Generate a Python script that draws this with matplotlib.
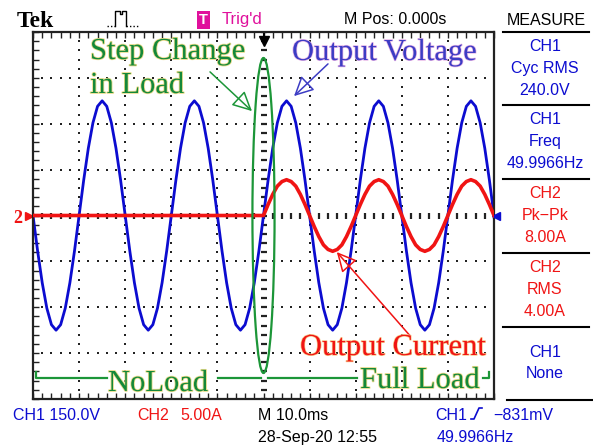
import numpy as np
import matplotlib
matplotlib.use("Agg")
import matplotlib.pyplot as plt
import matplotlib.patheffects as pe
from matplotlib import font_manager
from matplotlib.patches import Ellipse, FancyArrowPatch
from matplotlib.lines import Line2D

# ---- data ----
# time axis, 10 ms/div, one sample per ms
t_ms = np.arange(-50, 51, 1)

# CH1 output voltage (V), 150 V/div
ch1_volts = [
    0, -116, -220, -303, -357, -375, -357, -303, -220, -116,
    0, 116, 220, 303, 357, 375, 357, 303, 220, 116,
    0, -116, -220, -303, -357, -375, -357, -303, -220, -116,
    0, 116, 220, 303, 357, 375, 357, 303, 220, 116,
    0, -116, -220, -303, -357, -375, -357, -303, -220, -116,
    0, 116, 220, 303, 357, 375, 357, 303, 220, 116,
    0, -116, -220, -303, -357, -375, -357, -303, -220, -116,
    0, 116, 220, 303, 357, 375, 357, 303, 220, 116,
    0, -116, -220, -303, -357, -375, -357, -303, -220, -116,
    0, 116, 220, 303, 357, 375, 357, 303, 220, 116,
    0,
]

# CH2 output current (A), 5 A/div: no load before the step at t=0
ch2_amps = [0.0] * 50 + [
    0, 1.2, 2.3, 3.2, 3.7, 3.9, 3.7, 3.2, 2.3, 1.2,
    0, -1.2, -2.3, -3.2, -3.7, -3.9, -3.7, -3.2, -2.3, -1.2,
    0, 1.2, 2.3, 3.2, 3.7, 3.9, 3.7, 3.2, 2.3, 1.2,
    0, -1.2, -2.3, -3.2, -3.7, -3.9, -3.7, -3.2, -2.3, -1.2,
    0, 1.2, 2.3, 3.2, 3.7, 3.9, 3.7, 3.2, 2.3, 1.2,
    0,
]

measure_boxes = [
    (["CH1", "Cyc RMS", "240.0V"], "ch1"),
    (["CH1", "Freq", "49.9966Hz"], "ch1"),
    (["CH2", "Pk\u2212Pk", "8.00A"], "ch2"),
    (["CH2", "RMS", "4.00A"], "ch2"),
    (["CH1", "None"], "ch1"),
]

# ---- styling ----
W, H = 593, 447
BLUE = "#0c0cd0"
RED = "#f01414"
GREEN = "#1c9638"
GREEN_TXT = "#14883a"
VOLT_TXT = "#3c3cc4"
MAGENTA = "#e0109c"

names = {f.name for f in font_manager.fontManager.ttflist}
if "Liberation Sans Narrow" in names:
    SANS, SZ = "Liberation Sans Narrow", 13.5
else:
    SANS, SZ = "Liberation Sans", 11.5
SERIF = "Liberation Serif"


def fp(x, y):
    # pixel position (from top-left) -> figure fraction
    return (x / W, 1 - y / H)


fig = plt.figure(figsize=(W / 100, H / 100), dpi=100)
fig.patch.set_facecolor("white")

ax = fig.add_axes([33 / W, 1 - 399 / H, 461 / W, 367 / H])
ax.set_xlim(-50, 50)
ax.set_ylim(-600, 600)

# graticule: dotted division lines, dashed centre axes, ticks on the frame
yd = np.arange(-600, 601, 30)
xd = np.arange(-50, 51, 2)
for x in [-40, -30, -20, -10, 10, 20, 30, 40]:
    ax.plot([x] * len(yd), yd, ls="none", marker="s", ms=1.5, mew=0, color="#222222")
for y in [-450, -300, -150, 150, 300, 450]:
    ax.plot(xd, [y] * len(xd), ls="none", marker="s", ms=1.5, mew=0, color="#222222")
ax.plot([0] * len(yd), yd, ls="none", marker="_", ms=4.5, mew=1.6, color="#222222")
ax.plot(xd, [0] * len(xd), ls="none", marker="|", ms=4.5, mew=1.6, color="#222222")

ax.set_xticks(xd)
ax.set_yticks(yd)
ax.tick_params(direction="in", length=4, width=1, top=True, right=True,
               labelbottom=False, labelleft=False, color="#222222")
for s in ax.spines.values():
    s.set_linewidth(1.6)
    s.set_color("#222222")

ax.plot(t_ms, ch1_volts, color=BLUE, lw=2.0, solid_joinstyle="round")

ax2 = ax.twinx()
ax2.set_ylim(-20, 20)
ax2.axis("off")
ax2.plot(t_ms, ch2_amps, color=RED, lw=2.6)

# trigger position / level markers
ax.plot(0, 572, marker="v", ms=7, color="black", clip_on=False)
ax.plot(0, 590, marker="|", ms=5, mew=1.5, color="black", clip_on=False)
ax.plot(50.4, 0, marker="<", ms=6, color=BLUE, clip_on=False, zorder=5)
ax.plot(-50.9, 0, marker=">", ms=6, color=RED, clip_on=False)
fig.text(*fp(13, 223), "2", color=RED, fontsize=13, family=SERIF, weight="bold")

# ---- header ----
fig.text(*fp(17, 27), "Tek", family=SERIF, weight="bold", fontsize=17)
pulse = [(115, 26), (115, 11), (120, 11), (120, 14), (122, 14), (122, 11), (126, 11), (126, 26)]
fig.add_artist(Line2D([fp(*p)[0] for p in pulse], [fp(*p)[1] for p in pulse],
                      color="black", lw=1))
fig.add_artist(Line2D([fp(107, 26)[0], fp(115, 26)[0]], [fp(107, 26)[1]] * 2,
                      color="black", lw=1, ls=(0, (1, 1.5))))
fig.add_artist(Line2D([fp(126, 26)[0], fp(138, 26)[0]], [fp(126, 26)[1]] * 2,
                      color="black", lw=1, ls=(0, (1, 1.5))))
fig.text(*fp(199, 24), "T", color="white", weight="bold", family=SANS, fontsize=SZ - 1,
         bbox=dict(boxstyle="square,pad=0.12", fc=MAGENTA, ec="none"))
fig.text(*fp(222, 24), "Trig'd", color=MAGENTA, family=SANS, fontsize=SZ + 0.5)
fig.text(*fp(395, 24), "M Pos: 0.000s", ha="center", family=SANS, fontsize=SZ)
fig.text(*fp(546, 25), "MEASURE", ha="center", family=SANS, fontsize=SZ)

# ---- measurement panel ----
tops = [32, 105, 179, 253, 327]
for y in tops:
    fig.add_artist(Line2D([fp(503, y)[0], fp(589, y)[0]], [fp(503, y)[1]] * 2,
                          color="black", lw=1.5))
fig.add_artist(Line2D([fp(507, 400)[0], fp(593, 400)[0]], [fp(507, 400)[1]] * 2,
                      color="black", lw=1.5))
for (lines, ch), top in zip(measure_boxes, tops):
    col = BLUE if ch == "ch1" else RED
    offs = [19, 41, 63] if len(lines) == 3 else [30, 51]
    for txt, o in zip(lines, offs):
        fig.text(*fp(545, top + o), txt, ha="center", color=col, family=SANS, fontsize=SZ)

# ---- footer ----
fig.text(*fp(13, 420), "CH1 150.0V", color=BLUE, family=SANS, fontsize=SZ)
fig.text(*fp(137, 420), "CH2", color=RED, family=SANS, fontsize=SZ)
fig.text(*fp(180, 420), "5.00A", color=RED, family=SANS, fontsize=SZ)
fig.text(*fp(258, 420), "M 10.0ms", family=SANS, fontsize=SZ)
fig.text(*fp(258, 442), "28-Sep-20 12:55", family=SANS, fontsize=SZ)
fig.text(*fp(435, 420), "CH1", color=BLUE, family=SANS, fontsize=SZ)
slope = [(471, 419), (474, 419), (479, 408), (482, 408)]
fig.add_artist(Line2D([fp(*p)[0] for p in slope], [fp(*p)[1] for p in slope],
                      color=BLUE, lw=1.2))
fig.text(*fp(493, 420), "\u2212831mV", color=BLUE, family=SANS, fontsize=SZ)
fig.text(*fp(437, 442), "49.9966Hz", color=BLUE, family=SANS, fontsize=SZ)

# ---- annotations ----
fig.add_artist(Ellipse((0, 0), 4.8, 1030, transform=ax.transData,
                       fill=False, ec=GREEN, lw=1.6))

ann = dict(family=SERIF, fontsize=22)
glow_g = [pe.withStroke(linewidth=1.2, foreground="#eadb8a")]
glow_b = [pe.withStroke(linewidth=1.0, foreground="#e6b4e6")]
glow_r = [pe.withStroke(linewidth=1.0, foreground="#f8c88a")]
fig.text(*fp(90, 59), "Step Change", color=GREEN_TXT, path_effects=glow_g, **ann)
fig.text(*fp(90, 93), "in Load", color=GREEN_TXT, path_effects=glow_g, **ann)
fig.text(*fp(292, 60), "Output Voltage", color=VOLT_TXT, path_effects=glow_b, **ann)
fig.text(*fp(300, 355), "Output Current", color=RED, path_effects=glow_r, **ann)
fig.text(*fp(108, 391), "NoLoad", color=GREEN_TXT, path_effects=glow_g, **ann)
fig.text(*fp(360, 388), "Full Load", color=GREEN_TXT, path_effects=glow_g, **ann)

for pts in ([(36, 372), (36, 378), (107, 378)],
            [(218, 378), (261, 378)],
            [(268, 378), (357, 378)],
            [(483, 378), (489, 378), (489, 372)]):
    fig.add_artist(Line2D([fp(*p)[0] for p in pts], [fp(*p)[1] for p in pts],
                          color=GREEN, lw=1.6))

for tail, head, col in (((208, 70), (254, 113), GREEN),
                        ((330, 62), (292, 98), VOLT_TXT),
                        ((412, 338), (335, 250), RED)):
    fig.add_artist(FancyArrowPatch(fp(*tail), fp(*head), transform=fig.transFigure,
                                   arrowstyle="-|>,head_length=0.5,head_width=0.25",
                                   mutation_scale=24, ec=col, fc="none", lw=1.1))

fig.savefig("out.png", dpi=100)
